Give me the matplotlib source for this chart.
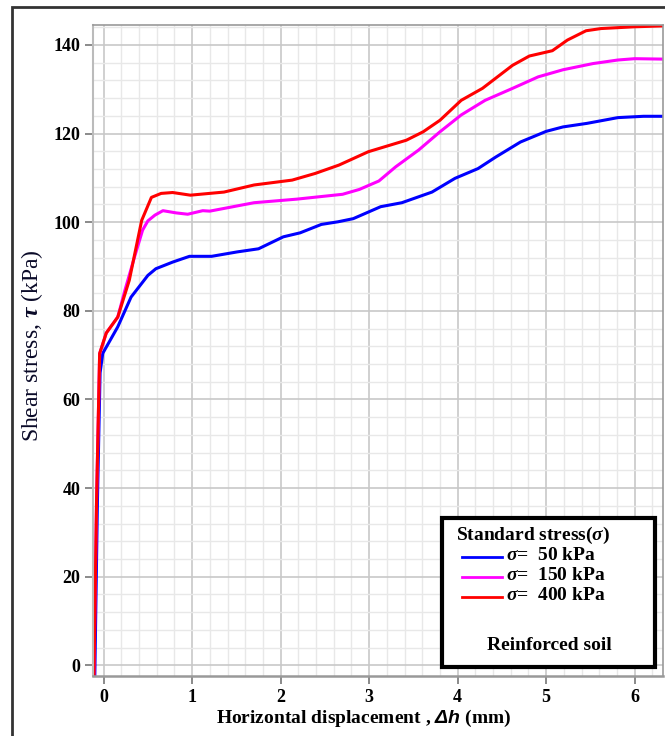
import matplotlib
matplotlib.use("Agg")
import matplotlib.pyplot as plt
from matplotlib.patches import Rectangle
from matplotlib.lines import Line2D
from matplotlib.ticker import MultipleLocator

plt.rcParams['font.family'] = ['Liberation Serif', 'DejaVu Serif']
plt.rcParams['font.weight'] = 'bold'
plt.rcParams['mathtext.fontset'] = 'custom'
plt.rcParams['mathtext.it'] = 'Liberation Serif:italic'
plt.rcParams['mathtext.rm'] = 'Liberation Serif'
plt.rcParams['mathtext.sf'] = 'Liberation Sans:italic'

# ---- data ----
x_50 = [-0.10, -0.07, -0.04, -0.01, 0.16, 0.31, 0.50, 0.59, 0.78, 0.97, 1.22, 1.51, 1.75,
        2.03, 2.22, 2.46, 2.65, 2.82, 3.13, 3.37, 3.71, 3.97, 4.23, 4.43, 4.71, 5.0,
        5.19, 5.46, 5.81, 6.10, 6.33]
y_50 = [-3, 37, 66, 70.4, 76.4, 83.1, 88.0, 89.5, 91.0, 92.3, 92.3, 93.3, 94.0,
        96.7, 97.6, 99.5, 100.1, 100.8, 103.5, 104.4, 106.8, 109.9, 112.1, 114.7, 118.1, 120.5,
        121.5, 122.3, 123.6, 123.9, 123.9]

x_150 = [-0.11, -0.08, -0.045, 0.03, 0.16, 0.24, 0.35, 0.44, 0.50, 0.58, 0.67, 0.82, 0.95,
         1.12, 1.2, 1.70, 2.18, 2.70, 2.89, 3.11, 3.30, 3.56, 3.80, 4.04, 4.31, 4.62, 4.91,
         5.19, 5.53, 5.81, 6.0, 6.33]
y_150 = [-3, 37, 70.3, 75, 78.6, 84.6, 92.2, 98.2, 100.3, 101.6, 102.6, 102.1, 101.8,
         102.6, 102.5, 104.4, 105.2, 106.3, 107.4, 109.3, 112.5, 116.3, 120.4, 124.2, 127.5, 130.2, 132.8,
         134.4, 135.8, 136.6, 136.9, 136.8]

x_400 = [-0.11, -0.08, -0.045, 0.03, 0.16, 0.29, 0.43, 0.54, 0.65, 0.78, 0.98, 1.36, 1.70,
         2.13, 2.39, 2.66, 2.99, 3.42, 3.61, 3.80, 4.04, 4.28, 4.62, 4.81, 5.07, 5.24, 5.45,
         5.62, 6.0, 6.33]
y_400 = [-3, 37, 70.4, 75, 78.6, 86.9, 100.4, 105.6, 106.5, 106.7, 106.1, 106.8, 108.4,
         109.5, 111, 112.9, 115.9, 118.5, 120.4, 123, 127.5, 130.2, 135.4, 137.5, 138.7, 141.1, 143.2,
         143.7, 144.1, 144.3]

series_labels = [r"$\sigma$=  50 kPa", r"$\sigma$=  150 kPa", r"$\sigma$=  400 kPa"]
colors = ['#0000ff', '#ff00ff', '#ff0000']
x_ticks = [0, 1, 2, 3, 4, 5, 6]
y_ticks = [0, 20, 40, 60, 80, 100, 120, 140]

W, H = 665, 736
fig = plt.figure(figsize=(W / 100, H / 100), dpi=100)

def fx(px):
    return px / W

def fy(py):
    return 1 - py / H

# outer border
fig.patches.append(Rectangle((fx(12), -0.05), 1.2, fy(7) + 0.05, transform=fig.transFigure,
                             fill=False, edgecolor='#333333', linewidth=2, zorder=0))

ax = fig.add_axes([fx(93), fy(676), fx(663) - fx(93), fy(25) - fy(676)])
ax.set_xlim(-0.12, 6.32)
ax.set_ylim(-2.4, 144.5)

ax.xaxis.set_major_locator(MultipleLocator(1))
ax.xaxis.set_minor_locator(MultipleLocator(0.2))
ax.yaxis.set_major_locator(MultipleLocator(20))
ax.yaxis.set_minor_locator(MultipleLocator(4))
ax.set_xticks(x_ticks)
ax.set_yticks(y_ticks)
ax.grid(which='minor', color='#e8e8e8', linewidth=1.0)
ax.grid(which='major', color='#c8c8c8', linewidth=1.2)
ax.set_axisbelow(True)

for xs, ys, c in [(x_50, y_50, colors[0]), (x_150, y_150, colors[1]), (x_400, y_400, colors[2])]:
    ax.plot(xs, ys, color=c, linewidth=2.2, solid_joinstyle='round')

for s in ['top', 'right']:
    ax.spines[s].set_color('#999999')
    ax.spines[s].set_linewidth(1.2)
ax.spines['left'].set_color('#bbbbbb')
ax.spines['left'].set_linewidth(1.5)
ax.spines['bottom'].set_color('#999999')
ax.spines['bottom'].set_linewidth(1.8)

ax.tick_params(which='major', direction='out', length=6, width=1.2, color='#777777',
               labelsize=13, pad=3)
ax.tick_params(which='minor', length=0)
for lab in ax.get_xticklabels() + ax.get_yticklabels():
    lab.set_fontweight('bold')

fig.text(fx(364), fy(718), r"Horizontal displacement , $\mathsf{\Delta h}$ (mm)",
         ha='center', va='center', fontsize=14, fontweight='bold')
fig.text(fx(32), fy(346), r"Shear stress, $\tau$ (kPa)", rotation=90,
         ha='center', va='center', fontsize=17, fontweight='normal', color='#0a0a28')

# legend box
fig.patches.append(Rectangle((fx(442), fy(667)), fx(655) - fx(442), fy(518) - fy(667),
                             transform=fig.transFigure, facecolor='white',
                             edgecolor='black', linewidth=3, zorder=5))
fig.text(fx(456), fy(535), r"Standard stress($\sigma$)", ha='left', va='center',
         fontsize=14, fontweight='bold', zorder=6)
for i, (lab, c, py) in enumerate(zip(series_labels, colors, [557, 577, 597])):
    fig.lines.append(Line2D([fx(462), fx(502)], [fy(py), fy(py)], color=c, linewidth=2,
                            transform=fig.transFigure, zorder=6))
    fig.text(fx(506), fy(py - 1), lab, ha='left', va='center', fontsize=14,
             fontweight='bold', zorder=6)
fig.text(fx(549), fy(645), "Reinforced soil", ha='center', va='center',
         fontsize=14, fontweight='bold', zorder=6)

fig.savefig("out.png", dpi=100)
